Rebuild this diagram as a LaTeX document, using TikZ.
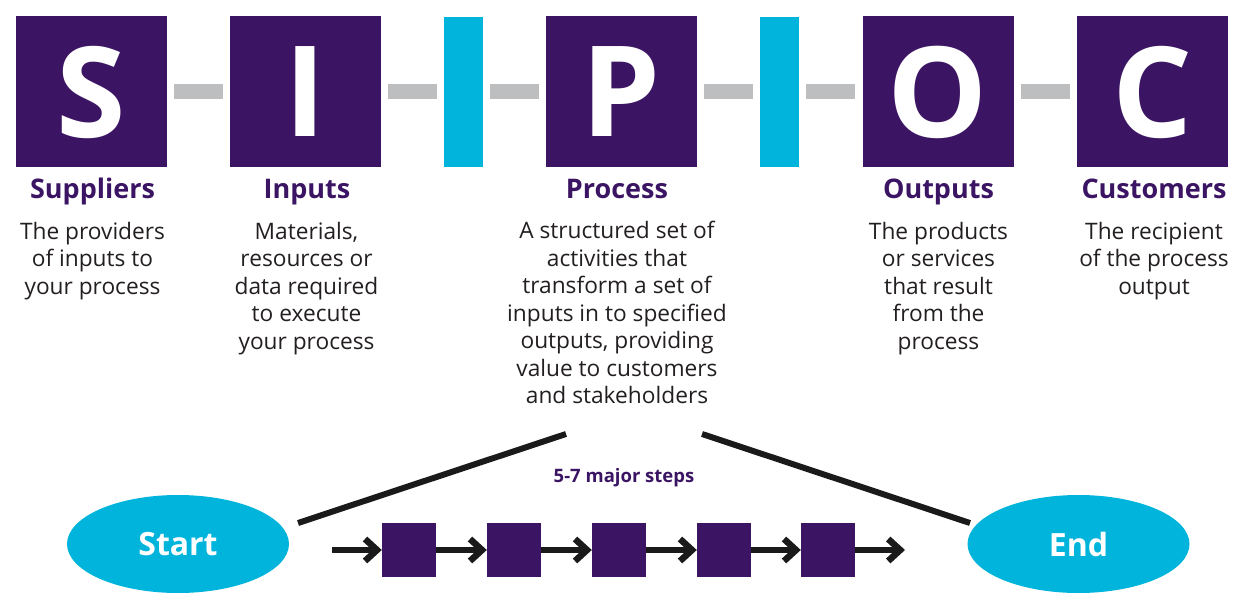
\documentclass[tikz,border=0pt]{standalone}
\usepackage{fontspec}
\setmainfont{Open Sans}
\usepackage{tikz}
\usetikzlibrary{arrows.meta,shapes.geometric}
\definecolor{sipocpurple}{HTML}{3B1563}
\definecolor{sipoccyan}{HTML}{00B4DC}
\definecolor{sipocgray}{HTML}{BCBEC0}
\definecolor{sipoctext}{HTML}{231F20}
\definecolor{sipocblack}{HTML}{1A1A1A}

\begin{document}
\begin{tikzpicture}[x=1pt, y=-1pt,
  letter/.style={fill=sipocpurple, text=white, minimum size=151pt, inner sep=0pt,
    font=\fontsize{126}{126}\selectfont\bfseries},
  bar/.style={fill=sipoccyan, minimum width=39pt, minimum height=150pt, inner sep=0pt},
  link/.style={line width=15pt, sipocgray, shorten <=7pt, shorten >=7pt},
  head/.style={anchor=base, inner sep=0pt, text=sipocpurple,
    font=\fontsize{27}{30}\selectfont\bfseries},
  body/.style={anchor=north, inner sep=0pt, align=center, text=sipoctext,
    font=\fontsize{22.7}{27.5}\selectfont},
  ends/.style={ellipse, fill=sipoccyan, minimum width=222pt, minimum height=98pt,
    text=white, font=\fontsize{32}{32}\selectfont\bfseries},
  stepbox/.style={fill=sipocpurple, minimum size=54pt, inner sep=0pt},
  flow/.style={-{Straight Barb[length=12pt,width=22pt]}, line width=6.5pt, sipocblack},
  fan/.style={line width=6pt, sipocblack}]
  \useasboundingbox (0,0) rectangle (1247,612);

  % SIPOC letters
  \node[letter] (S) at (91.5,92) {S};
  \node[letter] (I) at (305.5,92) {I};
  \node[bar] (bar1) at (463.5,92.5) {};
  \node[letter] (P) at (621.5,92) {P};
  \node[bar] (bar2) at (779.5,92.5) {};
  \node[letter] (O) at (938,92) {O};
  \node[letter] (C) at (1152.5,92) {C};
  \draw[link] (S) -- (I);
  \draw[link] (I) -- (bar1.west |- I.east);
  \draw[link] (bar1.east |- P.west) -- (P);
  \draw[link] (P) -- (bar2.west |- P.east);
  \draw[link] (bar2.east |- O.west) -- (O);
  \draw[link] (O) -- (C);

  \node[head] (hS) at (92.5,199) {Suppliers};
  \node[head] (hI) at (307,199) {Inputs};
  \node[head] (hP) at (617,199) {Process};
  \node[head] (hO) at (938.5,199) {Outputs};
  \node[head] (hC) at (1154,199) {Customers};

  \node[body] (tS) at (92.5,222) {The providers\\of inputs to\\your process};
  \node[body] (tI) at (306.5,222) {Materials,\\resources or\\data required\\to execute\\your process};
  \node[body] (tP) at (617,221) {A structured set of\\activities that\\transform a set of\\inputs in to specified\\outputs, providing\\value to customers\\and stakeholders};
  \node[body] (tO) at (938.5,222) {The products\\or services\\that result\\from the\\process};
  \node[body] (tC) at (1154,222) {The recipient\\of the process\\output};

  % process steps
  \node[ends] (start) at (178,544) {Start};
  \node[ends] (end) at (1078.5,544) {End};
  \node[text=sipocpurple, font=\fontsize{18.5}{20}\selectfont\bfseries] (major) at (624,478) {5-7 major steps};
  \coordinate (fanL) at (566,434);
  \coordinate (fanR) at (702,434);
  \coordinate (fanLo) at (298,523);
  \coordinate (fanRo) at (970,523);
  \draw[fan] (fanLo) -- (fanL);
  \draw[fan] (fanR) -- (fanRo);

  \foreach \px [count=\n] in {409,514,619,724,828}
    \node[stepbox] (st\n) at (\px,550) {};
  \coordinate (flowin) at (332,550);
  \coordinate (flowout) at (905,550);
  \draw[flow] (flowin) -- (st1);
  \foreach \a/\b in {1/2,2/3,3/4,4/5}
    \draw[flow] (st\a) -- (st\b);
  \draw[flow] (st5) -- (flowout);
\end{tikzpicture}
\end{document}
